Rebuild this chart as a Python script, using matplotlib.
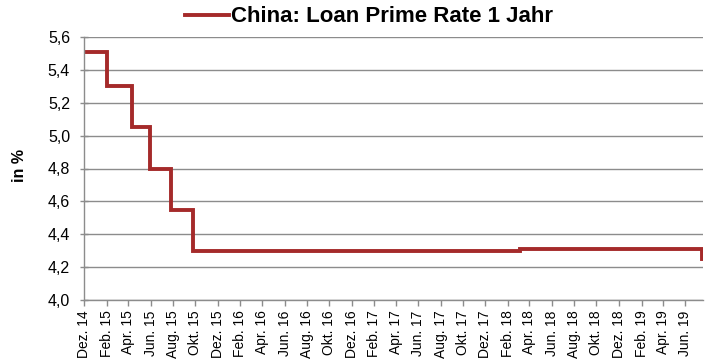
import matplotlib
matplotlib.use("Agg")
import matplotlib.pyplot as plt
import pandas as pd

# Step changes of the rate (date the new value takes effect)
change_dates = ["2014-12-01", "2015-02-01", "2015-04-10", "2015-05-29",
                "2015-07-26", "2015-09-24", "2018-03-06", "2019-07-16", "2019-07-19"]
rates = [5.51, 5.30, 5.05, 4.80, 4.55, 4.30, 4.31, 4.25, 4.25]

tick_dates = ["2014-12-01", "2015-02-01", "2015-04-01", "2015-06-01", "2015-08-01",
              "2015-10-01", "2015-12-01", "2016-02-01", "2016-04-01", "2016-06-01",
              "2016-08-01", "2016-10-01", "2016-12-01", "2017-02-01", "2017-04-01",
              "2017-06-01", "2017-08-01", "2017-10-01", "2017-12-01", "2018-02-01",
              "2018-04-01", "2018-06-01", "2018-08-01", "2018-10-01", "2018-12-01",
              "2019-02-01", "2019-04-01", "2019-06-01"]
tick_labels = ["Dez. 14", "Feb. 15", "Apr. 15", "Jun. 15", "Aug. 15", "Okt. 15",
               "Dez. 15", "Feb. 16", "Apr. 16", "Jun. 16", "Aug. 16", "Okt. 16",
               "Dez. 16", "Feb. 17", "Apr. 17", "Jun. 17", "Aug. 17", "Okt. 17",
               "Dez. 17", "Feb. 18", "Apr. 18", "Jun. 18", "Aug. 18", "Okt. 18",
               "Dez. 18", "Feb. 19", "Apr. 19", "Jun. 19"]
y_ticks = [4.0, 4.2, 4.4, 4.6, 4.8, 5.0, 5.2, 5.4, 5.6]

plt.rcParams['font.family'] = ['Liberation Sans', 'DejaVu Sans']

fig = plt.figure(figsize=(7.12, 3.6), dpi=100)
ax = fig.add_axes([84/712, 1-300/360, (703-84)/712, (300-37)/360])

x = pd.to_datetime(change_dates)
line, = ax.plot(x, rates, drawstyle="steps-post", color="#A52A2A", lw=2.8,
                solid_joinstyle="miter", label="China: Loan Prime Rate 1 Jahr")

ax.set_xlim(pd.Timestamp("2014-12-01"), pd.Timestamp("2019-07-19"))
ax.set_ylim(4.0, 5.6)
ax.set_yticks(y_ticks)
ax.set_yticklabels([f"{v:.1f}".replace(".", ",") for v in y_ticks], fontsize=11.5)
ax.set_xticks(pd.to_datetime(tick_dates))
ax.set_xticklabels(tick_labels, rotation=90, fontsize=10)

ax.grid(axis="y", color="#8c8c8c", lw=1.0)
ax.set_axisbelow(True)
for s in ["top", "right"]:
    ax.spines[s].set_visible(False)
for s in ["left", "bottom"]:
    ax.spines[s].set_color("#8c8c8c")
    ax.spines[s].set_linewidth(1.0)
ax.tick_params(axis="x", direction="out", color="#8c8c8c", length=4, width=1.0, pad=3.5)
ax.tick_params(axis="y", direction="inout", color="#8c8c8c", length=6, width=1.0, pad=7)

fig.text(20/712, 1-166/360, "in %", rotation=90, ha="center", va="center",
         fontsize=11.5, fontweight="bold")

fig.legend(handles=[line], loc="center", bbox_to_anchor=(369/712, 1-17/360),
           frameon=False, handlelength=1.95, handletextpad=0.1,
           prop={"size": 16, "weight": "bold"})

fig.savefig("out.png", dpi=100)
